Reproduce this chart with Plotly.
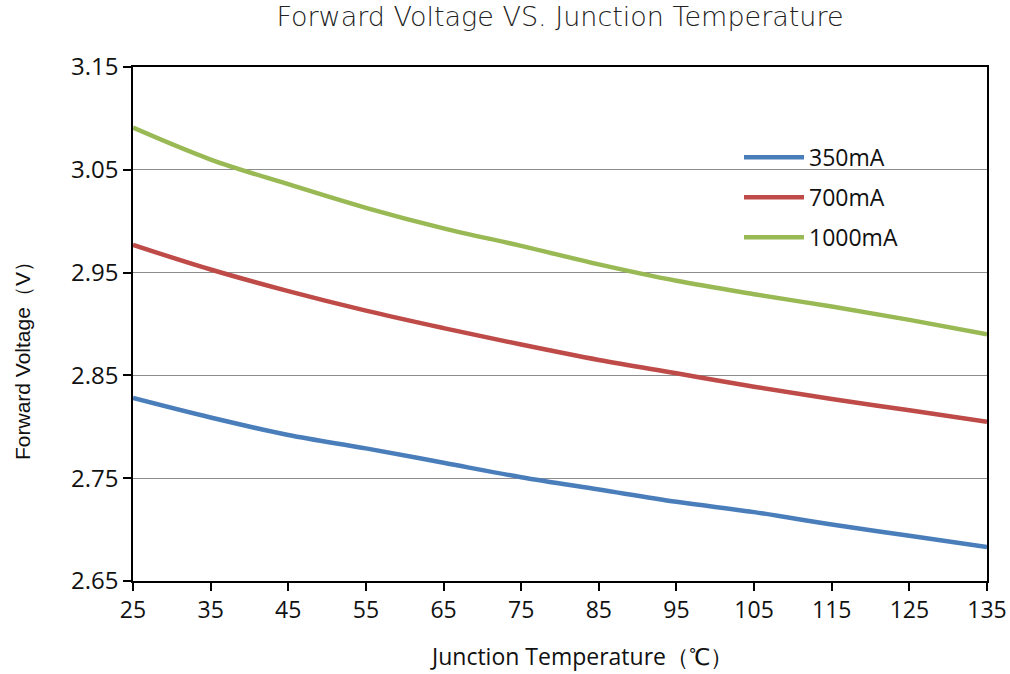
import plotly.graph_objects as go

temps = [25, 35, 45, 55, 65, 75, 85, 95, 105, 115, 125, 135]
v_350 = [2.828, 2.809, 2.792, 2.779, 2.765, 2.751, 2.739, 2.727, 2.717, 2.705, 2.694, 2.683]
v_700 = [2.977, 2.953, 2.932, 2.913, 2.896, 2.880, 2.865, 2.852, 2.839, 2.827, 2.816, 2.805]
v_1000 = [3.091, 3.060, 3.036, 3.013, 2.993, 2.976, 2.958, 2.942, 2.929, 2.917, 2.904, 2.890]
series_names = ["350mA", "700mA", "1000mA"]
colors = ["#4a7ebb", "#be4b48", "#98b954"]
x_ticks = list(range(25, 136, 10))
y_ticks = [2.65, 2.75, 2.85, 2.95, 3.05, 3.15]

fig = go.Figure()
for i, (name, vals) in enumerate(zip(series_names, [v_350, v_700, v_1000])):
    fig.add_trace(go.Scatter(
        x=temps, y=vals, mode="lines", name=name,
        line=dict(color=colors[i], width=4.5, shape="spline", smoothing=1.0),
        legendgroup=name,
    ))

tick_font = dict(family="Open Sans", size=23, color="#111111")

fig.update_layout(
    width=1010, height=674,
    margin=dict(l=133, r=23, t=67, b=93, autoexpand=False),
    paper_bgcolor="white", plot_bgcolor="white",
    title=dict(text="Forward Voltage VS. Junction Temperature", x=0.5, xanchor="center",
               xref="paper", y=1 - 17 / 674, yanchor="middle", yref="container",
               font=dict(family="DejaVu Sans", size=27, color="#222222", weight=300)),
    legend=dict(x=0.7096, y=0.866, xanchor="left", yanchor="top",
                font=dict(family="Open Sans", size=23, color="#111111"),
                bgcolor="rgba(0,0,0,0)", tracegroupgap=7, traceorder="grouped",
                itemwidth=60),
    xaxis=dict(range=[25, 135], tickvals=x_ticks, ticktext=[str(t) for t in x_ticks],
               ticks="outside", ticklen=8, tickcolor="black", tickwidth=1.5,
               showline=True, linecolor="black", linewidth=1.5, mirror=True,
               showgrid=False, zeroline=False, tickfont=tick_font),
    yaxis=dict(range=[2.65, 3.15], tickvals=y_ticks, ticktext=[f"{v:.2f}" for v in y_ticks],
               ticks="outside", ticklen=8, tickcolor="black", tickwidth=1.5,
               showline=True, linecolor="black", linewidth=1.5, mirror=True,
               showgrid=True, gridcolor="#8c8c8c", gridwidth=1.2, zeroline=False,
               tickfont=dict(family="Open Sans", size=24, color="#111111")),
    annotations=[
        dict(text="Junction Temperature（℃）", xref="paper", yref="paper",
             x=0.5246, y=0, xanchor="center", yanchor="middle", yshift=-75,
             showarrow=False, font=dict(family="Open Sans", size=23, color="#111111")),
        dict(text="Forward Voltage（V）", xref="paper", yref="paper",
             x=0, y=0.4377, xanchor="center", yanchor="middle", xshift=-111,
             textangle=-90, showarrow=False,
             font=dict(family="Liberation Sans", size=21, color="#111111")),
    ],
)

fig.write_html(
    "out.html",
    config={"displayModeBar": False},
    post_script="document.body.style.margin='0';document.body.style.overflow='hidden';",
)
